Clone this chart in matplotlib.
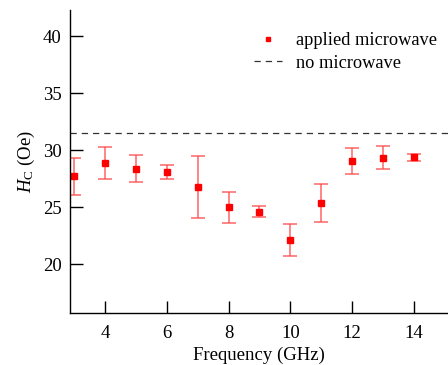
import matplotlib
matplotlib.use("Agg")
import matplotlib.pyplot as plt
import numpy as np

plt.rcParams['font.family'] = ['Liberation Serif', 'DejaVu Serif']
plt.rcParams['mathtext.fontset'] = 'custom'
plt.rcParams['mathtext.rm'] = 'Liberation Serif'
plt.rcParams['mathtext.it'] = 'Liberation Serif:italic'

freq = [3, 4, 5, 6, 7, 8, 9, 10, 11, 12, 13, 14]
hc = [27.7, 28.86, 28.36, 28.04, 26.8, 24.97, 24.6, 22.1, 25.35, 29.04, 29.3, 29.4]
err_high = [29.3, 30.26, 29.6, 28.66, 29.5, 26.3, 25.06, 23.5, 27.0, 30.18, 30.35, 29.68]
err_low = [26.1, 27.5, 27.2, 27.43, 24.04, 23.6, 24.15, 20.67, 23.66, 27.87, 28.3, 29.06]
no_mw = 31.5
xticks = [4, 6, 8, 10, 12, 14]
yticks = [20, 25, 30, 35, 40]

fig = plt.figure(figsize=(4.48, 3.65), dpi=100)
ax = fig.add_axes([70/448, 52/365, 1 - 70/448, (313-10)/365])

hc_a = np.array(hc)
yerr = [hc_a - np.array(err_low), np.array(err_high) - hc_a]
ax.errorbar(freq, hc, yerr=yerr, fmt='none', ecolor=(1, 0.3, 0.3, 0.8),
            elinewidth=1.2, capsize=5, capthick=1.2)
ax.plot(freq, hc, 's', color='#ff0000', markersize=4, linestyle='none',
        label='applied microwave')
ax.axhline(no_mw, color='#333333', linestyle=(0, (5, 4)), linewidth=0.9,
           label='no microwave')

ax.set_xlim(2.87, 15.1)
ax.set_ylim(15.7, 42.3)
ax.set_xticks(xticks)
ax.set_yticks(yticks)
ax.tick_params(direction='in', length=9, width=1, labelsize=13.5)
ax.tick_params(axis='x', pad=9)
ax.tick_params(axis='y', pad=6)
for s in ['top', 'right']:
    ax.spines[s].set_visible(False)
for s in ['left', 'bottom']:
    ax.spines[s].set_linewidth(1)

ax.set_xlabel('Frequency (GHz)', fontsize=13.5, labelpad=3)
ax.set_ylabel(r'$H_\mathrm{C}$ (Oe)', fontsize=13.5, labelpad=4)

leg = fig.legend(loc='upper left', bbox_to_anchor=(254/448, 1 - 32/365), frameon=False,
                 fontsize=13.2, handlelength=1.5, handletextpad=0.8, labelspacing=0.3,
                 borderaxespad=0, borderpad=0, markerscale=0.75)

fig.savefig('out.png', dpi=100)
